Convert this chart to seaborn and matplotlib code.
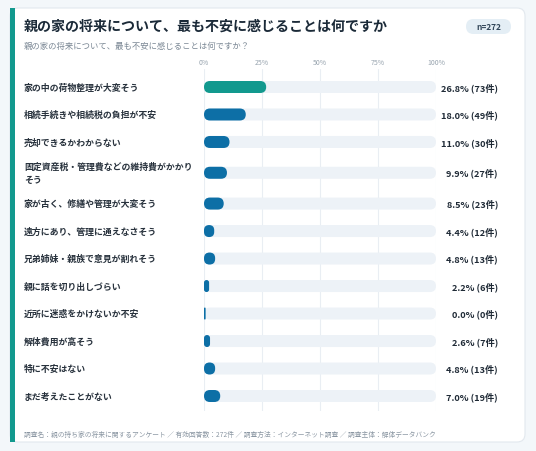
import textwrap
import numpy as np
import pandas as pd
import matplotlib
matplotlib.use("Agg")
import matplotlib.pyplot as plt
import seaborn as sns
from matplotlib.patches import FancyBboxPatch, Rectangle

# data
categories = [
    "家の中の荷物整理が大変そう",
    "相続手続きや相続税の負担が不安",
    "売却できるかわからない",
    "固定資産税・管理費などの維持費がかかりそう",
    "家が古く、修繕や管理が大変そう",
    "遠方にあり、管理に通えなさそう",
    "兄弟姉妹・親族で意見が割れそう",
    "親に話を切り出しづらい",
    "近所に迷惑をかけないか不安",
    "解体費用が高そう",
    "特に不安はない",
    "まだ考えたことがない",
]
percents = [26.8, 18.0, 11.0, 9.9, 8.5, 4.4, 4.8, 2.2, 0.0, 2.6, 4.8, 7.0]
counts = [73, 49, 30, 27, 23, 12, 13, 6, 0, 7, 13, 19]
x_ticks = [0, 25, 50, 75, 100]
n_total = 272

title = "親の家の将来について、最も不安に感じることは何ですか"
subtitle = "親の家の将来について、最も不安に感じることは何ですか？"
footer = ("調査名：親の持ち家の将来に関するアンケート ／ 有効回答数：272件 ／ "
          "調査方法：インターネット調査 ／ 調査主体：解体データバンク")

TEAL = "#12998e"
BLUE = "#0d6fa6"
TRACK = "#edf2f7"
FONT = ["Noto Sans CJK JP", "DejaVu Sans"]

sns.set_theme(style="white")
plt.rcParams["font.family"] = FONT

W, H = 536, 452
fig = plt.figure(figsize=(W / 100, H / 100), dpi=100, facecolor="#f3f7fa")

# background axes in pixel coordinates for the card
bg = fig.add_axes([0, 0, 1, 1])
bg.set_xlim(0, W)
bg.set_ylim(H, 0)
bg.axis("off")
bg.add_patch(FancyBboxPatch((10, 9), 515, 434, boxstyle="round,pad=0,rounding_size=8",
                            fc="white", ec="#e2e8ee", lw=0.8))
bg.add_patch(Rectangle((10, 9), 4.5, 434, fc=TEAL, ec="none"))

bg.text(24, 27, title, fontsize=10.1, fontweight="bold", color="#1b2a38", va="center")
bg.text(24, 46, subtitle, fontsize=6.0, color="#7a8794", va="center")
bg.add_patch(FancyBboxPatch((466, 20), 45, 15, boxstyle="round,pad=0,rounding_size=7.5",
                            fc="#e4eef5", ec="none"))
bg.text(488.5, 27.6, f"n={n_total}", fontsize=6.0, fontweight="bold", color="#33475a",
        ha="center", va="center")
bg.text(24, 435, footer, fontsize=4.85, color="#8a96a2", va="center")

# row positions: two-line labels get a little more room
labels = [textwrap.fill(c, 19) for c in categories]
two_line = [l.count("\n") > 0 for l in labels]
gaps = [1.0 + 0.12 * (two_line[i] + two_line[i + 1]) for i in range(len(labels) - 1)]
pos = np.concatenate([[0.0], np.cumsum(gaps)])

df = pd.DataFrame({"label": labels, "pct": percents, "cnt": counts, "pos": pos,
                   "track": 100.0})

# chart axes: 0% at x=204px, 100% at x=436px; rows from y=70px to 412px
ax_top, ax_bot = 70, 412
ax = fig.add_axes([204 / W, (H - ax_bot) / H, 232 / W, (ax_bot - ax_top) / H])
px_per_unit = (397 - 88) / pos[-1]
ylim = (pos[-1] + (ax_bot - 397) / px_per_unit, -(88 - ax_top) / px_per_unit)

bar_w = 12 / px_per_unit
sns.barplot(data=df, x="track", y="pos", orient="h", native_scale=True,
            color=TRACK, width=bar_w, ax=ax, saturation=1)
sns.barplot(data=df, x="pct", y="pos", orient="h", native_scale=True,
            color=BLUE, width=bar_w, ax=ax, saturation=1)
ax.set_xlim(0, 100)
ax.set_ylim(*ylim)

# swap rectangles for pill shapes
bbox = ax.get_window_extent()
x_per_px = 100 / bbox.width
y_per_px = 1 / px_per_unit
aspect = y_per_px / x_per_px
rects = [p for p in ax.patches if isinstance(p, Rectangle)]
n = len(categories)
for i, r in enumerate(rects):
    x0, y0, w, h = r.get_x(), r.get_y(), r.get_width(), r.get_height()
    if i >= n:
        fc = TEAL if i == n else BLUE
        w = max(w, 0.7)
    else:
        fc = TRACK
    rad = min(w, h / aspect) / 2
    r.remove()
    ax.add_patch(FancyBboxPatch((x0, y0), w, h, boxstyle=f"round,pad=0,rounding_size={rad}",
                                mutation_aspect=aspect, fc=fc, ec="none", zorder=3,
                                clip_on=False))

ax.grid(axis="x", color="#e9eef3", lw=0.8, zorder=0)
ax.set_axisbelow(True)
ax.xaxis.tick_top()
ax.set_xticks(x_ticks)
ax.set_xticklabels([f"{t}%" for t in x_ticks], fontsize=5.0, color="#97a3ae")
ax.tick_params(axis="x", length=0, pad=2)
ax.set_yticks([])
ax.set_xlabel("")
ax.set_ylabel("")
for s in ax.spines.values():
    s.set_visible(False)
ax.patch.set_alpha(0)

# row labels and values
for lab, p, c, yy in zip(labels, percents, counts, pos):
    ax.text(-180 / 232 * 100, yy, lab, fontsize=6.4, fontweight="bold", color="#27313c",
            va="center", ha="left", linespacing=1.6)
    ax.text(62 / 232 * 100 + 100, yy, f"{p:.1f}% ({c}件)", fontsize=6.6, fontweight="bold",
            color="#1f2a36", va="center", ha="right")

fig.savefig("out.png", dpi=100, facecolor=fig.get_facecolor())
